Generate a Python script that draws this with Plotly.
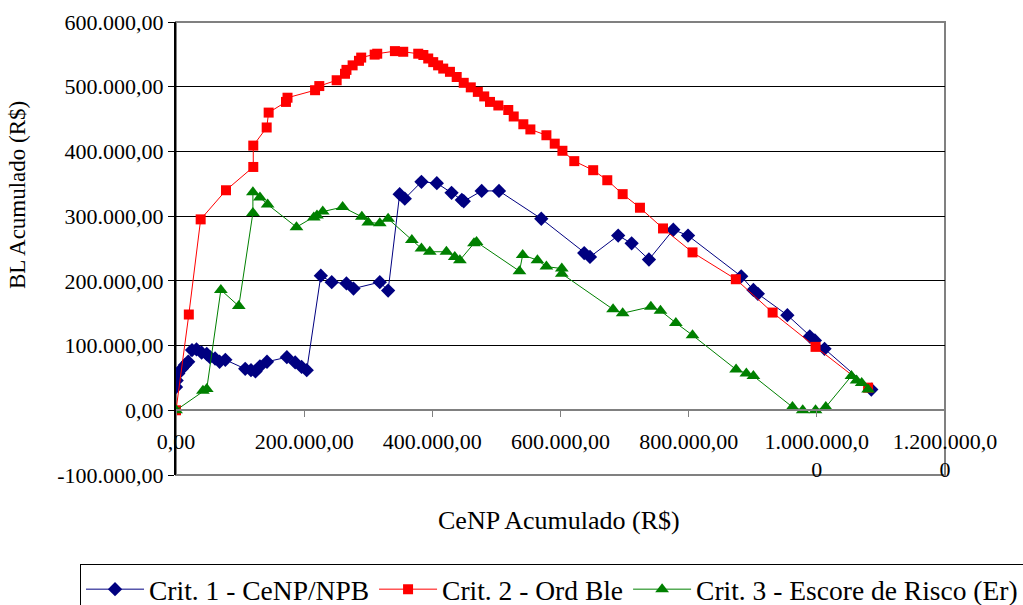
import plotly.graph_objects as go

# ---- data (R$) ----
crit1_x = [0, 1000, 3600, 9000, 14000, 19000, 25000, 32000, 40000, 48000, 53000, 61000, 68000, 77000,
           108000, 117000, 124000, 131000, 142000, 173000, 186000, 196000, 204000,
           226000, 243000, 266000, 277000, 318000, 331000,
           349000, 357000, 383000, 407000, 430000, 446000, 449000, 477000, 504000,
           570000, 637000, 646000, 690000, 711000, 738000, 776000, 799000,
           882000, 901000, 908000, 954000, 989000, 997000, 1012000, 1085000]
crit1_y = [36000, 46000, 57000, 64000, 70000, 75000, 93000, 94000, 89000, 87000, 82000, 80000, 75000, 78000,
           64000, 62000, 60000, 68000, 75000, 82000, 74000, 67000, 62000,
           208000, 198000, 196000, 188000, 198000, 185000,
           334000, 327000, 353000, 351000, 336000, 325000, 323000, 339000, 339000,
           296000, 243000, 237000, 270000, 258000, 233000, 279000, 270000,
           207000, 186000, 180000, 147000, 114000, 108000, 95000, 32000]

crit2_x = [0, 20000, 38500, 78000, 120600, 120600, 141500, 144600, 171600, 174000, 217000, 223600,
           250700, 263700, 266000, 275600, 285500, 289000, 310000, 314000, 341600, 354600,
           378000, 386000, 393600, 401400, 409000, 417000, 427500, 438000, 449000, 460000,
           471000, 481000, 490000, 503000, 518500, 527000, 542000, 553000, 578000, 591000,
           603000, 621500, 651000, 673000, 697000, 724000, 760000, 806000, 873600, 931000,
           998000, 1080000]
crit2_y = [0, 148000, 295000, 340000, 376000, 409000, 437000, 460000, 476500, 483000, 494600, 501000,
           510000, 520000, 526000, 533000, 540000, 545000, 549600, 551000, 555000, 554000,
           551000, 549000, 543600, 538000, 533000, 528000, 523000, 515000, 506000, 499000,
           492000, 485000, 476500, 471000, 464000, 454000, 442000, 434000, 425000, 412000,
           401000, 385000, 371000, 355500, 334000, 313000, 281000, 244000, 202500, 151000,
           98000, 35000]

crit3_x = [0, 42000, 48000, 70000, 98000, 120000, 120000, 131000, 143000, 188000, 215000, 220000,
           229000, 260000, 290000, 300000, 318000, 331000, 368000, 383000, 396000, 422000,
           435000, 443000, 465000, 469000, 536000, 541000, 564000, 578000, 602000, 602000,
           682000, 697000, 741000, 756000, 780000, 806000, 874000, 890000, 901000, 962000,
           978000, 998000, 1014000, 1054000, 1062000, 1070000, 1080000]
crit3_y = [0, 30000, 33000, 186000, 161000, 305000, 337000, 329000, 318000, 283000, 298000, 301000,
           307000, 314000, 299000, 290000, 289000, 296000, 263000, 250000, 245000, 245000,
           237000, 232000, 258000, 260000, 215000, 240000, 232000, 222000, 219000, 211000,
           156000, 150000, 160000, 154000, 135000, 116000, 63000, 57000, 53000, 5000,
           0, 0, 5000, 53000, 46000, 42000, 32000]

series_names = ["Crit. 1 - CeNP/NPB", "Crit. 2 - Ord Ble", "Crit. 3 - Escore de Risco (Er)"]

y_tickvals = [-100000, 0, 100000, 200000, 300000, 400000, 500000, 600000]
y_ticktext = ["-100.000,00", "0,00", "100.000,00", "200.000,00", "300.000,00",
              "400.000,00", "500.000,00", "600.000,00"]
x_tickvals = [0, 200000, 400000, 600000, 800000, 1000000, 1200000]
x_ticktext = ["0,00", "200.000,00", "400.000,00", "600.000,00", "800.000,00",
              "1.000.000,0<br>0", "1.200.000,0<br>0"]

FONT = "Liberation Serif"

fig = go.Figure()
fig.add_trace(go.Scatter(x=crit1_x, y=crit1_y, mode="lines+markers", name=series_names[0],
                         line=dict(color="#000080", width=1),
                         marker=dict(symbol="diamond", size=11, color="#000080", line=dict(width=0))))
fig.add_trace(go.Scatter(x=crit2_x, y=crit2_y, mode="lines+markers", name=series_names[1],
                         line=dict(color="#FF0000", width=1),
                         marker=dict(symbol="square", size=10, color="#FF0000", line=dict(width=0))))
fig.add_trace(go.Scatter(x=crit3_x, y=crit3_y, mode="lines+markers", name=series_names[2],
                         line=dict(color="#008000", width=1),
                         marker=dict(symbol="triangle-up", size=12, color="#008000", line=dict(width=0))))

fig.update_layout(
    width=1023, height=605,
    margin=dict(l=176, r=78, t=22, b=130, autoexpand=False),
    paper_bgcolor="white", plot_bgcolor="white",
    font=dict(family=FONT, size=22, color="black"),
    showlegend=True,
    legend=dict(orientation="h", x=-0.1248, y=-0.196, xanchor="left", yanchor="top",
                bordercolor="black", borderwidth=1, font=dict(size=27.5, family=FONT),
                itemwidth=58, tracegroupgap=0),
    xaxis=dict(range=[0, 1200000], tickvals=x_tickvals, ticktext=x_ticktext,
               anchor="free", position=1/7, showline=True, linecolor="#808080", linewidth=2,
               ticks="outside", ticklen=6, tickcolor="#808080", showgrid=False, zeroline=False,
               ticklabelstandoff=5, tickfont=dict(size=22, family=FONT)),
    yaxis=dict(range=[-100000, 600000], tickvals=y_tickvals, ticktext=y_ticktext,
               showline=True, linecolor="black", linewidth=2, ticks="outside", ticklen=6,
               tickcolor="black", showgrid=True, gridcolor="black", gridwidth=1, zeroline=False,
               tickfont=dict(size=22, family=FONT)),
    shapes=[dict(type="rect", xref="paper", yref="paper", x0=0, x1=1, y0=0, y1=1,
                 line=dict(color="#808080", width=2), layer="between")],
    annotations=[
        dict(text="CeNP Acumulado (R$)", xref="paper", yref="paper", x=(559-176)/769, y=(475-520)/453,
             showarrow=False, xanchor="center", yanchor="middle", font=dict(size=26, family=FONT)),
        dict(text="BL Acumulado (R$)", xref="paper", yref="paper", x=(18-176)/769, y=(475-195)/453,
             showarrow=False, xanchor="center", yanchor="middle", textangle=-90,
             font=dict(size=23, family=FONT)),
    ],
)

fig.write_html("out.html")
